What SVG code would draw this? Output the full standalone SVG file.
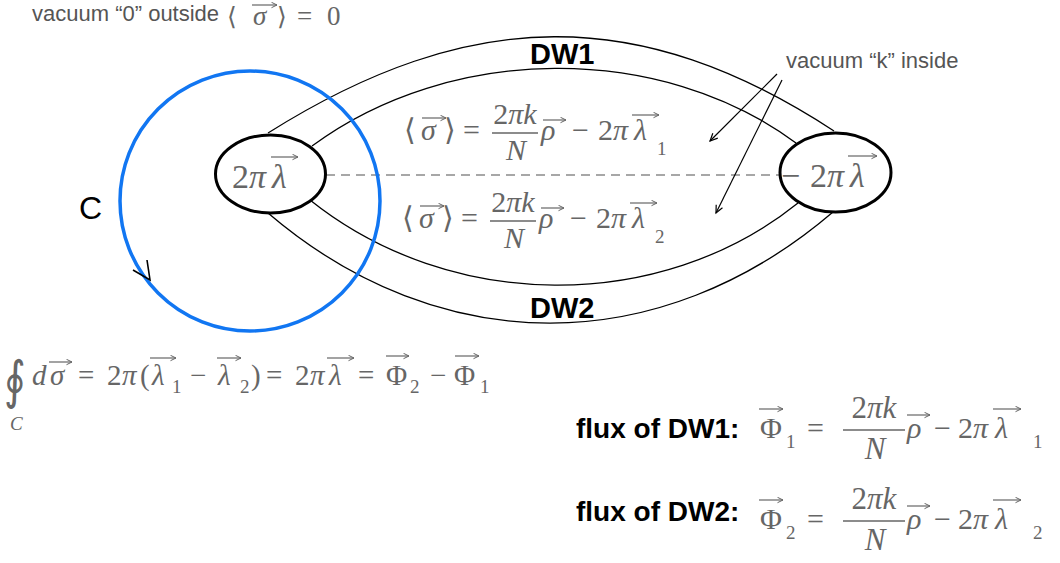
<svg xmlns="http://www.w3.org/2000/svg" width="1060" height="563" viewBox="0 0 1060 563">
<defs>
<style>
.m{font-family:"Liberation Serif","DejaVu Serif",serif;fill:#666;font-size:30px}
.i{font-style:italic}
.s{font-size:19px}
.lab{font-family:"Liberation Sans",Arial,sans-serif;fill:#555;font-size:22px}
.b{font-family:"Liberation Sans",Arial,sans-serif;font-weight:bold;fill:#000}
.v{stroke:#666;stroke-width:1.2;fill:none;marker-end:url(#vh)}
.dw{fill:none;stroke:#000;stroke-width:1.3}
.pt{stroke:#000;stroke-width:1.2;fill:none;marker-end:url(#ah)}
</style>
<marker id="vh" markerUnits="userSpaceOnUse" markerWidth="8" markerHeight="8" refX="6" refY="3" orient="auto"><path d="M0.5,0.3 L6,3 L0.5,5.7" fill="none" stroke="#666" stroke-width="1"/></marker>
<marker id="ah" markerUnits="userSpaceOnUse" markerWidth="10" markerHeight="10" refX="8" refY="4" orient="auto"><path d="M0.5,0.5 L8,4 L0.5,7.5" fill="none" stroke="#000" stroke-width="1.2"/></marker>
</defs>
<rect width="1060" height="563" fill="#fff"/>

<g id="connectors">
<path class="dw" d="M268,133 C470,6 640,4 834,131"/>
<path class="dw" d="M312,146 C450,44 660,42 796,143"/>
<path class="dw" d="M310,200 C450,312 660,314 798,203"/>
<path class="dw" d="M268,213 C440,360 660,360 833,212"/>
<line x1="326" y1="175" x2="780" y2="175" stroke="#8a8a8a" stroke-width="1.5" stroke-dasharray="9 6"/>
<line class="pt" x1="777" y1="74" x2="710" y2="141"/>
<line class="pt" x1="782" y1="80" x2="716" y2="213"/>
</g>

<g id="loop-C">
<circle cx="250" cy="201" r="130" fill="none" stroke="#1176f2" stroke-width="3.5"/>
<polyline points="133,270 150,280 147,260" fill="none" stroke="#000" stroke-width="1.6"/>
<text class="b" x="79" y="219" style="font-weight:normal;font-size:32px">C</text>
</g>

<g id="node-left">
<ellipse cx="270.5" cy="174" rx="55" ry="39" fill="#fff" stroke="#000" stroke-width="3"/>
<text class="m" y="188" style="font-size:34px"><tspan x="232">2</tspan><tspan class="i" x="249">π</tspan><tspan class="i" x="272">λ</tspan></text>
<path class="v" d="M271,157 H298"/>
</g>

<g id="node-right">
<ellipse cx="835.5" cy="172.5" rx="55.5" ry="39.5" fill="#fff" stroke="#000" stroke-width="3"/>
<text class="m" y="187" style="font-size:34px"><tspan x="781">−</tspan><tspan x="810">2</tspan><tspan class="i" x="827">π</tspan><tspan class="i" x="850">λ</tspan></text>
<path class="v" d="M848,156 H877"/>
</g>

<g id="label-outside">
<text class="lab" x="32" y="21">vacuum “0” outside</text>
<text class="m" y="25" style="font-size:27px"><tspan x="227" style="font-size:25px">⟨</tspan><tspan class="i" x="253">σ</tspan><tspan x="277" style="font-size:25px">⟩</tspan><tspan x="297">=</tspan><tspan x="327">0</tspan></text>
<path class="v" d="M252,5 H277"/>
</g>

<g id="label-inside">
<text class="lab" x="786" y="68">vacuum “k” inside</text>
</g>

<g id="label-DW1">
<text class="b" x="530" y="64" style="font-size:29px">DW1</text>
</g>
<g id="label-DW2">
<text class="b" x="530" y="318" style="font-size:29px">DW2</text>
</g>

<g id="eq-DW1">
<text class="m" y="140"><tspan x="404">⟨</tspan><tspan class="i" x="421">σ</tspan><tspan x="444">⟩</tspan><tspan x="463">=</tspan><tspan class="i" x="541">ρ</tspan><tspan x="572">−</tspan><tspan x="598">2</tspan><tspan class="i" x="613">π</tspan><tspan class="i" x="634">λ</tspan></text>
<text class="m" x="515" y="124" text-anchor="middle">2<tspan class="i">πk</tspan></text>
<line x1="492" y1="133" x2="538" y2="133" stroke="#666" stroke-width="1.3"/>
<text class="m i" x="516" y="160" text-anchor="middle">N</text>
<text class="m s" x="657" y="155">1</text>
<path class="v" d="M422,118 H446"/>
<path class="v" d="M543,120 H566"/>
<path class="v" d="M632,115 H659"/>
</g>

<g id="eq-DW2" transform="translate(-2,88)">
<text class="m" y="140"><tspan x="404">⟨</tspan><tspan class="i" x="421">σ</tspan><tspan x="444">⟩</tspan><tspan x="463">=</tspan><tspan class="i" x="541">ρ</tspan><tspan x="572">−</tspan><tspan x="598">2</tspan><tspan class="i" x="613">π</tspan><tspan class="i" x="634">λ</tspan></text>
<text class="m" x="515" y="124" text-anchor="middle">2<tspan class="i">πk</tspan></text>
<line x1="492" y1="133" x2="538" y2="133" stroke="#666" stroke-width="1.3"/>
<text class="m i" x="516" y="160" text-anchor="middle">N</text>
<text class="m s" x="657" y="155">2</text>
<path class="v" d="M422,118 H446"/>
<path class="v" d="M543,120 H566"/>
<path class="v" d="M632,115 H659"/>
</g>

<g id="eq-integral">
<text class="m" transform="translate(4,398) scale(0.8,1)" style="font-size:52px">∮</text>
<text class="m i s" x="10" y="430">C</text>
<text class="m" y="385" style="font-size:29px"><tspan class="i" x="32">d</tspan><tspan class="i" x="50">σ</tspan><tspan x="78">=</tspan><tspan x="107">2</tspan><tspan class="i" x="122">π</tspan><tspan x="140">(</tspan><tspan class="i" x="152">λ</tspan><tspan x="190">−</tspan><tspan class="i" x="218">λ</tspan><tspan x="251">)</tspan><tspan x="266">=</tspan><tspan x="295">2</tspan><tspan class="i" x="310">π</tspan><tspan class="i" x="329">λ</tspan><tspan x="358">=</tspan><tspan x="386">Φ</tspan><tspan x="430">−</tspan><tspan x="454">Φ</tspan></text>
<text class="m s" y="393"><tspan x="172">1</tspan><tspan x="240">2</tspan><tspan x="410">2</tspan><tspan x="480">1</tspan></text>
<path class="v" d="M49,362 H72"/>
<path class="v" d="M150,358 H176"/>
<path class="v" d="M217,358 H241"/>
<path class="v" d="M327,358 H354"/>
<path class="v" d="M386,356 H409"/>
<path class="v" d="M455,356 H479"/>
</g>

<g id="flux-DW1">
<text class="b" x="576" y="438" style="font-size:28px">flux of DW1:</text>
<text class="m" y="438"><tspan x="760">Φ</tspan><tspan x="807">=</tspan><tspan class="i" x="907">ρ</tspan><tspan x="934">−</tspan><tspan x="958">2</tspan><tspan class="i" x="973">π</tspan><tspan class="i" x="995">λ</tspan></text>
<text class="m" x="874" y="418" text-anchor="middle" style="font-size:31px">2<tspan class="i">πk</tspan></text>
<line x1="843" y1="430" x2="905" y2="430" stroke="#666" stroke-width="1.3"/>
<text class="m i" x="875" y="459" text-anchor="middle" style="font-size:31px">N</text>
<text class="m s" y="448"><tspan x="786">1</tspan><tspan x="1033">1</tspan></text>
<path class="v" d="M759,409 H783"/>
<path class="v" d="M907,415 H930"/>
<path class="v" d="M993,409 H1021"/>
</g>

<g id="flux-DW2">
<text class="b" x="576" y="521" style="font-size:28px">flux of DW2:</text>
<text class="m" y="529"><tspan x="760">Φ</tspan><tspan x="807">=</tspan><tspan class="i" x="907">ρ</tspan><tspan x="934">−</tspan><tspan x="958">2</tspan><tspan class="i" x="973">π</tspan><tspan class="i" x="995">λ</tspan></text>
<text class="m" x="874" y="509" text-anchor="middle" style="font-size:31px">2<tspan class="i">πk</tspan></text>
<line x1="843" y1="521" x2="905" y2="521" stroke="#666" stroke-width="1.3"/>
<text class="m i" x="875" y="550" text-anchor="middle" style="font-size:31px">N</text>
<text class="m s" y="539"><tspan x="786">2</tspan><tspan x="1033">2</tspan></text>
<path class="v" d="M759,500 H783"/>
<path class="v" d="M907,506 H930"/>
<path class="v" d="M993,500 H1021"/>
</g>
</svg>
